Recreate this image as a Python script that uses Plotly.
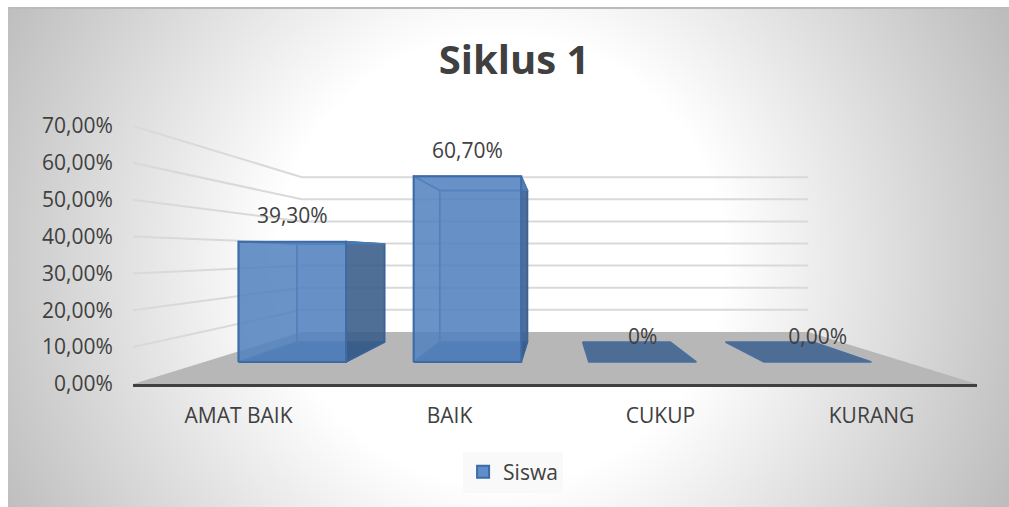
import numpy as np
import plotly.graph_objects as go

categories = ["AMAT BAIK", "BAIK", "CUKUP", "KURANG"]
siswa = [0.393, 0.607, 0.0, 0.0]
value_labels = ["39,30%", "60,70%", "0%", "0,00%"]
y_ticks = [0.0, 0.1, 0.2, 0.3, 0.4, 0.5, 0.6, 0.7]

FONT = "Open Sans"
TEXT = "#404040"

# perspective of the fake 3D box, everything shrinks towards this point
VP_X = 1.5
VP_Y = 0.353
WALL_S = 0.6     # back wall
BAR_FRONT_S = 0.83
BAR_BACK_S = 0.677
BAR_HALF = 0.307
LABEL_LIFT = 0.035


def project(x, y, s):
    return VP_X + (x - VP_X) * s, VP_Y + (y - VP_Y) * s


def face(points, fill, line, width=1.5):
    xs = [p[0] for p in points] + [points[0][0]]
    ys = [p[1] for p in points] + [points[0][1]]
    return go.Scatter(x=xs, y=ys, xaxis="x2", yaxis="y2", mode="lines", fill="toself",
                      fillcolor=fill, line=dict(color=line, width=width),
                      hoverinfo="skip", showlegend=False)


fig = go.Figure()

# background radial gradient, the chart card starts 8px in from the page corner
gx = np.linspace(8, 1009, 81)
gy = np.linspace(8, 507, 41)
xx, yy = np.meshgrid(gx, gy)
r = np.sqrt((xx - 500) ** 2 + (yy - 260) ** 2) / 559
fig.add_trace(go.Heatmap(x=gx, y=gy, z=r, zmin=0, zmax=1, zsmooth="best", showscale=False,
                         colorscale=[[0, "#ffffff"], [0.4, "#ffffff"], [1, "#bdbdbd"]],
                         hoverinfo="skip"))

# floor
fig.add_trace(face([project(-0.5, 0, 1), project(3.5, 0, 1),
                    project(3.5, 0, WALL_S), project(-0.5, 0, WALL_S)], "#b7b7b7", "rgba(0,0,0,0)", 0))

# gridlines on left wall and back wall
for t in y_ticks[1:]:
    a = project(-0.5, t, 1)
    b = project(-0.5, t, WALL_S)
    c = project(3.5, t, WALL_S)
    fig.add_trace(go.Scatter(x=[a[0], b[0], c[0]], y=[a[1], b[1], c[1]], xaxis="x2", yaxis="y2",
                             mode="lines", line=dict(color="#d9d9d9", width=2),
                             hoverinfo="skip", showlegend=False))

# bars, back to front
for i, v in enumerate(siswa):
    x0, x1 = i - BAR_HALF, i + BAR_HALF
    fbl, fbr = project(x0, 0, BAR_FRONT_S), project(x1, 0, BAR_FRONT_S)
    ftl, ftr = project(x0, v, BAR_FRONT_S), project(x1, v, BAR_FRONT_S)
    bbl, bbr = project(x0, 0, BAR_BACK_S), project(x1, 0, BAR_BACK_S)
    btl, btr = project(x0, v, BAR_BACK_S), project(x1, v, BAR_BACK_S)

    edge = "#4a76ad" if v > 0 else "#4a6f9e"
    fig.add_trace(face([bbl, bbr, fbr, fbl], "rgba(50,90,140,0.8)", edge))
    if v > 0:
        fig.add_trace(face([bbl, bbr, btr, btl], "rgba(91,141,204,0.25)", "#4a7ab5"))
        fig.add_trace(face([fbl, bbl, btl, ftl], "rgba(91,141,204,0.15)", "#4a7ab5"))
        fig.add_trace(face([fbr, bbr, btr, ftr], "rgba(55,90,135,0.85)", "#3a6398"))
        fig.add_trace(face([ftl, ftr, btr, btl], "rgba(120,165,225,0.25)", "#4a7ab5"))
        fig.add_trace(face([fbl, fbr, ftr, ftl], "rgba(84,130,190,0.85)", "#3c6ba6", 2))

# data labels above the front top edge
fig.add_trace(go.Scatter(
    x=[project(i, v, BAR_FRONT_S)[0] for i, v in enumerate(siswa)],
    y=[project(i, v, BAR_FRONT_S)[1] + LABEL_LIFT for i, v in enumerate(siswa)],
    xaxis="x2", yaxis="y2", mode="text", text=value_labels, textposition="top center",
    textfont=dict(family=FONT, size=21, color=TEXT), hoverinfo="skip", showlegend=False))

# only here for the legend swatch
fig.add_trace(go.Bar(x=[0, 1, 2, 3], y=[None] * 4, xaxis="x2", yaxis="y2", name="Siswa",
                     marker=dict(color="#5f8fcb", line=dict(color="#3c6ba6", width=2))))

fig.update_layout(
    width=1009,
    height=507,
    margin=dict(l=0, r=0, t=0, b=0),
    template="none",
    separators=",.",
    paper_bgcolor="white",
    plot_bgcolor="rgba(0,0,0,0)",
    font=dict(family=FONT, size=21, color=TEXT),
    title=dict(text="<b>Siklus 1</b>", x=0.5095, xanchor="center", y=0.881, yanchor="middle",
               font=dict(family=FONT, size=40, color=TEXT)),
    xaxis=dict(range=[8, 1009], visible=False, domain=[8 / 1009, 1]),
    yaxis=dict(range=[507, 8], visible=False, domain=[0, 499 / 507]),
    xaxis2=dict(range=[-0.5, 3.5], domain=[0.1318, 0.9683], anchor="y2",
                tickmode="array", tickvals=[0, 1, 2, 3], ticktext=categories,
                showgrid=False, zeroline=False, showline=True, linecolor="#404040", linewidth=3,
                ticks="outside", ticklen=11, tickcolor="rgba(0,0,0,0)"),
    yaxis2=dict(range=[0, 0.7], domain=[0.2426, 0.7515], anchor="x2",
                tickmode="array", tickvals=y_ticks, tickformat=".2%",
                showgrid=False, zeroline=False, showline=False,
                ticks="outside", ticklen=15, tickcolor="rgba(0,0,0,0)"),
    legend=dict(x=0.5085, xanchor="center", y=0.0690, yanchor="middle", bgcolor="#f9f9f9",
                font=dict(family=FONT, size=21, color=TEXT)),
    shapes=[dict(type="line", xref="paper", yref="paper", x0=8 / 1009, x1=1, y0=499 / 507, y1=499 / 507,
                 line=dict(color="#bbbbbb", width=2))],
)

# page margin off, the figure is the whole window
fig.write_html("out.html", config={"displayModeBar": False},
               post_script="document.body.style.margin = '0';")
